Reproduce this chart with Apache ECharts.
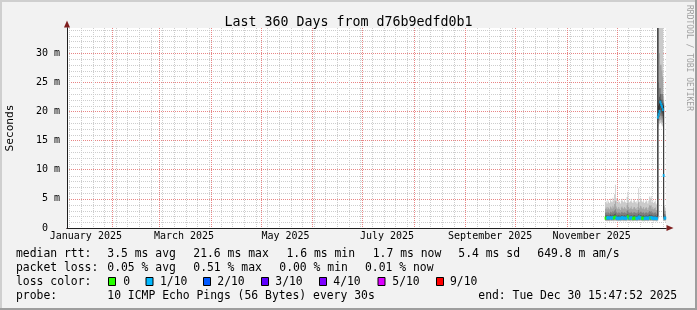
<!DOCTYPE html>
<html><head><meta charset="utf-8">
<script src="https://cdn.jsdelivr.net/npm/echarts@6/dist/echarts.min.js"></script>
<style>html,body{margin:0;padding:0;background:#f2f2f2}#c{width:697px;height:310px}</style>
</head><body><div id="c"></div>
<script>
// ---- data: 12h consolidated smoke (10 sorted pings), median and loss level ----
const stepStart = Date.UTC(2025, 10, 24, 12, 0, 0); // first 12h step
const stepHours = 12;
const ping1 = [1.2,1.2,1.1,1.2,1.2,1.1,1.2,1.2,1.2,1.2,1.1,1.2,1.2,1.2,1.2,1.1,1.2,1.2,1.1,1.2,1.2,1.2,1.1,1.2,1.2,1.1,1.2,1.2,1.2,1.2,1.1,1.2,1.2,1.1,1.2,1.2,1.2,1.2,1.1,1.2,1.2,1.2,1.2,1.2,1.2,1.1,1.2,1.1,1.2,1.2,1.2,1.1,1.2,1.2,1.2,1.2,1.2,1.2,1.1,1.2,1.2,1.1,1.1, 1.2, 17.4,17.8,18.0,17.9,17.6,17.4, 1.2, 1.2,1.1];
const ping2 = [1.3,1.3,1.3,1.3,1.3,1.3,1.4,1.3,1.3,1.4,1.3,1.4,1.4,1.3,1.3,1.3,1.3,1.3,1.3,1.3,1.4,1.3,1.3,1.3,1.3,1.3,1.4,1.4,1.3,1.3,1.3,1.4,1.3,1.3,1.3,1.3,1.3,1.3,1.3,1.3,1.4,1.3,1.4,1.3,1.3,1.3,1.3,1.3,1.3,1.3,1.3,1.3,1.3,1.4,1.3,1.4,1.3,1.3,1.3,1.3,1.3,1.3,1.3, 1.4, 18.0,18.4,18.6,18.5,18.2,18.0, 1.3, 1.3,1.3];
const ping3 = [1.4,1.4,1.4,1.4,1.4,1.4,1.5,1.4,1.4,1.5,1.4,1.5,1.5,1.4,1.4,1.4,1.4,1.4,1.4,1.4,1.5,1.4,1.4,1.4,1.4,1.4,1.5,1.5,1.4,1.4,1.4,1.5,1.4,1.4,1.4,1.4,1.4,1.4,1.4,1.4,1.5,1.4,1.5,1.4,1.4,1.4,1.4,1.4,1.4,1.4,1.4,1.4,1.4,1.5,1.4,1.5,1.4,1.4,1.4,1.4,1.4,1.4,1.4, 1.6, 18.5,19.0,19.3,19.2,18.9,18.6, 1.5, 1.4,1.4];
const ping4 = [1.5,1.5,1.5,1.5,1.5,1.5,1.6,1.5,1.5,1.6,1.5,1.6,1.6,1.5,1.5,1.5,1.5,1.5,1.5,1.5,1.6,1.5,1.5,1.5,1.5,1.5,1.6,1.7,1.5,1.5,1.5,1.6,1.5,1.5,1.5,1.5,1.5,1.5,1.5,1.5,1.6,1.5,1.6,1.5,1.5,1.5,1.5,1.5,1.5,1.5,1.5,1.5,1.5,1.6,1.5,1.6,1.5,1.5,1.5,1.5,1.5,1.5,1.5, 1.8, 19.0,19.5,20.0,19.8,19.5,19.2, 1.7, 1.5,1.5];
const ping5 = [1.6,1.6,1.6,1.7,1.6,1.6,1.7,1.6,1.6,1.7,1.6,1.7,1.8,1.6,1.6,1.6,1.6,1.6,1.6,1.6,1.7,1.6,1.6,1.6,1.6,1.6,1.7,1.9,1.6,1.6,1.6,1.7,1.6,1.6,1.6,1.6,1.6,1.6,1.6,1.6,1.8,1.6,1.7,1.6,1.6,1.6,1.6,1.6,1.6,1.6,1.6,1.6,1.6,1.7,1.6,1.7,1.6,1.6,1.6,1.6,1.6,1.6,1.6, 2.0, 19.6,20.3,21.0,20.6,20.2,19.8, 1.9, 1.6,1.6];
const ping6 = [1.9,1.9,1.8,1.9,1.9,1.8,2.0,1.9,1.9,2.0,1.9,2.0,2.1,1.9,1.9,1.8,1.9,1.9,1.8,1.9,1.9,1.9,1.8,1.9,1.9,1.8,2.0,2.1,1.9,1.9,1.9,1.9,1.8,1.8,1.9,1.9,1.9,1.9,1.8,1.9,2.0,1.9,1.9,1.9,1.9,1.8,1.9,1.8,1.9,1.9,1.9,1.8,1.9,2.0,1.9,2.0,1.9,1.9,1.8,1.9,1.9,1.8,1.8, 36, 21.0,21.5,22.0,21.5,21.2,21.0, 21.0, 1.8,1.8];
const ping7 = [2.1,2.2,2.1,2.2,2.1,2.1,2.3,2.2,2.1,2.3,2.2,2.4,2.5,2.2,2.1,2.1,2.2,2.1,2.0,2.2,2.2,2.1,2.1,2.2,2.1,2.1,2.3,2.4,2.2,2.1,2.1,2.2,2.1,2.0,2.2,2.2,2.1,2.1,2.0,2.2,2.4,2.1,2.2,2.2,2.1,2.1,2.2,2.0,2.1,2.2,2.1,2.0,2.2,2.3,2.2,2.3,2.1,2.2,2.0,2.1,2.2,2.0,2.0, 38, 22.0,22.5,23.0,22.0,22.0,21.5, 21.2, 2.0,2.0];
const ping8 = [2.6,2.7,2.5,2.8,2.6,2.5,2.8,2.7,2.6,2.9,2.7,3.0,3.2,2.8,2.6,2.5,2.7,2.6,2.5,2.7,2.8,2.6,2.6,2.7,2.6,2.5,2.9,3.1,2.7,2.6,2.6,2.8,2.6,2.5,2.7,2.7,2.6,2.6,2.5,2.7,3.1,2.6,2.8,2.8,2.6,2.6,2.7,2.5,2.6,2.7,2.6,2.5,2.7,2.9,2.8,2.9,2.6,2.7,2.5,2.6,2.7,2.5,2.4, 40, 25.0,24.0,24.0,23.0,23.0,23.0, 21.5, 2.4,2.3];
const ping9 = [3.3,3.5,3.2,3.6,3.4,3.2,3.7,3.5,3.3,3.8,3.5,4.1,4.6,3.7,3.4,3.2,3.6,3.3,3.1,3.5,3.7,3.4,3.3,3.6,3.4,3.2,3.9,4.3,3.6,3.3,3.4,3.7,3.3,3.2,3.5,3.6,3.3,3.4,3.1,3.6,4.4,3.4,3.8,3.7,3.4,3.3,3.6,3.2,3.4,3.6,3.4,3.1,3.5,3.9,3.8,3.9,3.3,3.6,3.2,3.4,3.5,3.1,3.0, 45, 36.0,30.0,28.0,28.0,27.0,26.0, 22.0, 3.0,2.9];
const ping10 = [4.4,4.6,4.2,4.8,4.5,4.3,5.0,4.6,4.4,5.2,4.7,5.8,7.4,5.1,4.6,4.3,4.8,4.5,4.2,4.7,5.0,4.6,4.4,4.9,4.5,4.3,5.3,6.2,4.8,4.4,4.6,5.0,4.5,4.3,4.7,4.9,4.4,4.6,4.2,4.8,6.8,4.5,5.2,5.0,4.6,4.4,4.8,4.3,4.5,4.9,4.6,4.2,4.7,5.4,5.1,5.5,4.4,4.8,4.3,4.5,4.7,4.2,4.0, 50, 45.0,42.0,40.0,40.0,38.0,38.0, 22.5, 3.8,3.5];
const medianRtt = [1.7,1.7,1.7,1.8,1.7,1.7,1.8,1.7,1.7,1.8,1.7,1.8,1.9,1.7,1.7,1.6,1.7,1.7,1.6,1.7,1.8,1.7,1.7,1.7,1.7,1.6,1.8,2.0,1.7,1.7,1.7,1.8,1.7,1.6,1.7,1.7,1.7,1.7,1.6,1.7,1.9,1.7,1.8,1.7,1.7,1.6,1.7,1.6,1.7,1.7,1.7,1.6,1.7,1.8,1.7,1.8,1.7,1.7,1.6,1.7,1.7,1.6,1.6, 19.0, 19.5,20.0,21.6,21.2,20.8,20.3, 9.0, 1.7,1.7];
const lossLevel = [0,0,1,1,1,1,1,1,1,1,0,0,0,1,1,1,1,1,1,1,1,1,1,1,1,1,1,0,0,1,1,1,1,0,0,0,0,1,1,1,1,1,1,1,0,0,0,1,1,1,1,1,1,1,0,1,1,1,1,1,1,1,1, 1, 1,1,1,1,1,1, 1, 1,1];

// ---- legend / axis texts ----
const lossColorLabels = ['0','1/10','2/10','3/10','4/10','5/10','9/10'];
const lossColors = ['#26ff00','#00b8ff','#0059ff','#5e00ff','#7e00ff','#dd00ff','#ff0000'];
const monthLabels = ['January 2025','March 2025','May 2025','July 2025','September 2025','November 2025'];
const monthLabelDates = ['2025-01-16','2025-03-16','2025-05-16','2025-07-16','2025-09-16','2025-11-16'];
const monthGridDates = ['2025-02-01','2025-03-01','2025-04-01','2025-05-01','2025-06-01','2025-07-01','2025-08-01','2025-09-01','2025-10-01','2025-11-01','2025-12-01'];
const titleText = 'Last 360 Days from d76b9edfd0b1';
const medianRow = ['median rtt:','3.5 ms avg','21.6 ms max','1.6 ms min','1.7 ms now','5.4 ms sd','649.8 m am/s'];
const lossRow = ['packet loss:','0.05 % avg','0.51 % max','0.00 % min','0.01 % now'];
const probeRow = ['probe:','10 ICMP Echo Pings (56 Bytes) every 30s','end: Tue Dec 30 15:47:52 2025'];

// ---- build ----
const T0 = Date.UTC(2025, 0, 4, 15, 47, 52);
const T1 = Date.UTC(2025, 11, 30, 15, 47, 52);
const Y_MAX = 34.3;
const DAY = 86400000;
const stepMs = stepHours * 3600000;
const ts = d => Date.parse(d + 'T00:00:00Z');
const times = ping1.map((_, i) => stepStart + i * stepMs);
const pings = [ping1, ping2, ping3, ping4, ping5, ping6, ping7, ping8, ping9, ping10];
const bandColors = ['#cacaca', '#a4a4a4', '#7e7e7e', '#585858', '#323232'];

const weekLines = [];
for (let t = Date.UTC(2025, 0, 6); t < T1; t += 7 * DAY) weekLines.push(t);
const minorY = [];
for (let v = 1; v < Y_MAX; v++) if (v % 5 !== 0) minorY.push(v);

const MONO = '"DejaVu Sans Mono", monospace';
const GRID_MINOR = '#cdcdcd', GRID_MAJOR = '#e88585', ARROW = '#7f1f1f', AXIS = '#1f1f1f';

function vGridSeries(list, color, z) {
  return {
    type: 'custom', z, silent: true, clip: false,
    data: list.map(t => [t, 0]), encode: { x: 0, y: 1 },
    renderItem: (params, api) => {
      const cs = params.coordSys;
      const x = Math.round(api.coord([api.value(0), 0])[0]) + 0.5;
      return { type: 'line', shape: { x1: x, y1: cs.y, x2: x, y2: cs.y + cs.height },
        style: { stroke: color, lineWidth: 1, lineDash: [1, 1] } };
    }
  };
}
function hGridSeries(list, color, z) {
  return {
    type: 'custom', z, silent: true, clip: false,
    data: list.map(v => [T0, v]), encode: { x: 0, y: 1 },
    renderItem: (params, api) => {
      const cs = params.coordSys;
      const y = Math.round(api.coord([T0, api.value(1)])[1]) + 0.5;
      return { type: 'line', shape: { x1: cs.x, y1: y, x2: cs.x + cs.width, y2: y },
        style: { stroke: color, lineWidth: 1, lineDash: [1, 1] } };
    }
  };
}
function bandSeries(lo, hi, color, z) {
  return {
    type: 'custom', z, silent: true,
    data: times.map((t, i) => [t, lo[i], hi[i]]),
    encode: { x: 0, y: [1, 2] },
    renderItem: (params, api) => {
      if (params.dataIndex !== 0) return null;
      const cs = params.coordSys;
      const topEdge = [], botEdge = [];
      for (let i = 0; i < times.length; i++) {
        const xa = api.coord([times[i] - stepMs, 0])[0];
        const xb = api.coord([times[i], 0])[0];
        const yh = Math.max(api.coord([times[i], hi[i]])[1], cs.y);
        const yl = Math.max(api.coord([times[i], lo[i]])[1], cs.y);
        topEdge.push([xa, yh], [xb, yh]);
        botEdge.push([xa, yl], [xb, yl]);
      }
      return { type: 'polygon', shape: { points: topEdge.concat(botEdge.reverse()) }, style: { fill: color, stroke: null } };
    }
  };
}
const monthLabelSeries = {
  type: 'custom', z: 20, silent: true, clip: false,
  data: monthLabelDates.map((d, i) => [ts(d), 0, i]), encode: { x: 0, y: 1 },
  renderItem: (params, api) => {
    const p = api.coord([api.value(0), 0]);
    return { type: 'text', x: p[0], y: p[1] + 3,
      style: { text: monthLabels[api.value(2)], font: '10px ' + MONO, fill: '#000', align: 'center', verticalAlign: 'top', textAlign: 'center', textVerticalAlign: 'top' } };
  }
};

const series = [];
series.push(hGridSeries(minorY, GRID_MINOR, 1));
series.push(vGridSeries(weekLines, GRID_MINOR, 1));
series.push(vGridSeries(monthGridDates.map(ts), GRID_MAJOR, 2));
for (let b = 0; b < 5; b++) series.push(bandSeries(pings[b], pings[9 - b], bandColors[b], 3 + b));
series.push({
  type: 'scatter', symbol: 'rect', symbolSize: [2, 3], symbolOffset: [-0.4, 0], silent: true, z: 10,
  data: times.map((t, i) => ({ value: [t, medianRtt[i]], itemStyle: { color: lossColors[lossLevel[i]] } }))
});
series.push(monthLabelSeries);

const txt = (x, y, text, extra) => ({ type: 'text', x, y, silent: true,
  style: Object.assign({ text, font: '11.4px ' + MONO, fill: '#000', textAlign: 'left', textVerticalAlign: 'middle', align: 'left', verticalAlign: 'middle' }, extra || {}) });

const graphic = [
  { type: 'rect', shape: { x: 0, y: 0, width: 697, height: 2 }, style: { fill: '#cfcfcf' }, silent: true },
  { type: 'rect', shape: { x: 0, y: 0, width: 2, height: 310 }, style: { fill: '#cfcfcf' }, silent: true },
  { type: 'rect', shape: { x: 0, y: 308, width: 697, height: 2 }, style: { fill: '#9e9e9e' }, silent: true },
  { type: 'rect', shape: { x: 695, y: 0, width: 2, height: 310 }, style: { fill: '#9e9e9e' }, silent: true },
  { type: 'text', x: 689, y: 5, rotation: -Math.PI / 2, silent: true,
    style: { text: 'RRDTOOL / TOBI OETIKER', font: '8px ' + MONO, fill: '#a0a0a0', textAlign: 'left', textVerticalAlign: 'middle', align: 'left', verticalAlign: 'middle' } }
];
const medX = [16, 107.3, 193.3, 286.5, 372.7, 458.3, 537.3];
medianRow.forEach((s, i) => graphic.push(txt(medX[i], 254, s)));
const lossX = [16, 107.3, 193.3, 279.3, 365];
lossRow.forEach((s, i) => graphic.push(txt(lossX[i], 268, s)));
graphic.push(txt(16, 282, 'loss color:'));
const boxX = [108.5, 146, 203.5, 261.5, 319.5, 378, 436.5];
const lblX = [123.3, 160, 217.3, 275.3, 333.3, 392.3, 450];
lossColorLabels.forEach((s, i) => {
  graphic.push({ type: 'rect', shape: { x: boxX[i], y: 277.5, width: 7, height: 8 }, style: { fill: lossColors[i], stroke: '#000', lineWidth: 1 }, silent: true });
  graphic.push(txt(lblX[i], 282, s));
});
const probeX = [16, 107.3, 478.3];
probeRow.forEach((s, i) => graphic.push(txt(probeX[i], 296, s)));

const option = {
  animation: false,
  backgroundColor: '#f2f2f2',
  title: { text: titleText, left: 'center', top: 11, textStyle: { fontFamily: MONO, fontSize: 13.3, fontWeight: 'normal', color: '#000' } },
  grid: { left: 67, right: 31, top: 28, bottom: 82, show: true, backgroundColor: '#ffffff', borderWidth: 0, containLabel: false, outerBoundsMode: 'none' },
  xAxis: [
    { type: 'value', position: 'bottom', offset: 0, min: T0, max: T1, z: 1,
      axisLine: { show: true, onZero: false, symbol: ['none', 'triangle'], symbolSize: [6, 7], symbolOffset: [0, 4], lineStyle: { color: ARROW, width: 1 } },
      axisTick: { show: false }, axisLabel: { show: false }, splitLine: { show: false } },
    { type: 'value', position: 'bottom', offset: 0, min: T0, max: T1, z: 2,
      axisLine: { show: true, onZero: false, lineStyle: { color: AXIS, width: 1 } },
      axisTick: { show: false }, splitLine: { show: false }, axisLabel: { show: false } }
  ],
  yAxis: [
    { type: 'value', position: 'left', offset: 0, min: 0, max: Y_MAX, interval: 5, z: 1,
      name: 'Seconds', nameLocation: 'middle', nameGap: 51, nameRotate: 90,
      nameTextStyle: { fontFamily: MONO, fontSize: 11.2, color: '#000' },
      axisLine: { show: true, onZero: false, symbol: ['none', 'triangle'], symbolSize: [6, 7], symbolOffset: [0, 4], lineStyle: { color: ARROW, width: 1 } },
      axisTick: { show: false },
      axisLabel: { show: true, margin: 7, fontFamily: MONO, fontSize: 10, color: '#000',
        formatter: v => (Math.abs(v % 5) < 1e-9 ? (v === 0 ? '0  ' : v + ' m') : '') },
      splitLine: { show: true, showMinLine: false, showMaxLine: false, lineStyle: { color: GRID_MAJOR, type: [1, 1], width: 1 } } },
    { type: 'value', position: 'left', offset: 0, min: 0, max: Y_MAX, z: 2,
      axisLine: { show: true, onZero: false, lineStyle: { color: AXIS, width: 1 } },
      axisTick: { show: false }, axisLabel: { show: false }, splitLine: { show: false } }
  ],
  graphic,
  series
};
const chart = echarts.init(document.getElementById('c'), null, { renderer: 'canvas', width: 697, height: 310 });
chart.setOption(option);
</script>
</body></html>
